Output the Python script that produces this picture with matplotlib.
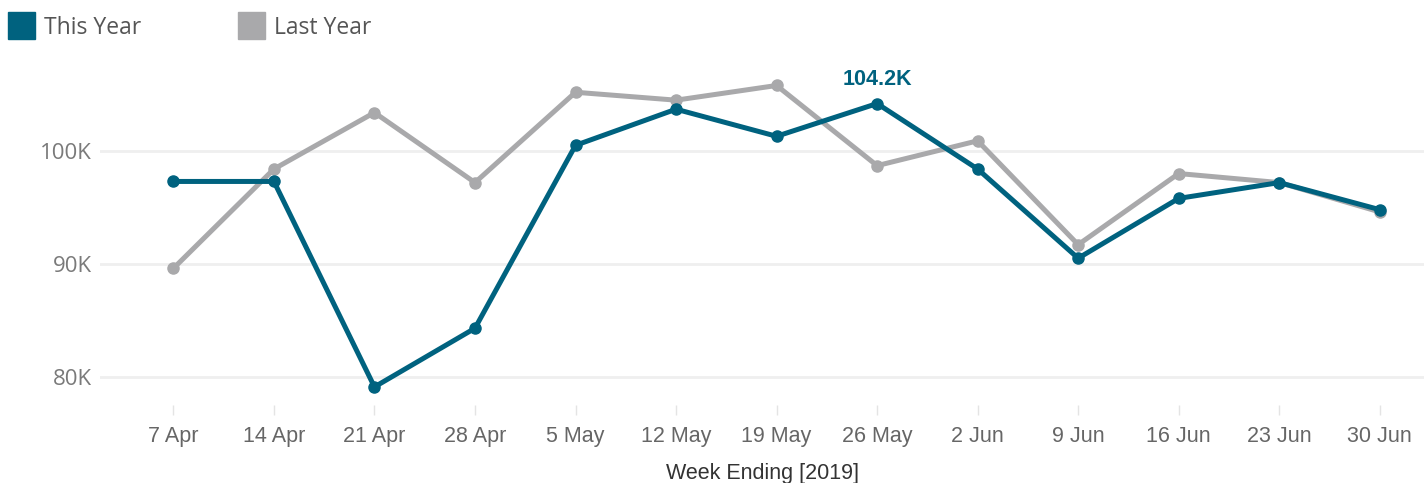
import matplotlib
matplotlib.use("Agg")
import matplotlib.pyplot as plt
from matplotlib.patches import Rectangle

weeks = ["7 Apr", "14 Apr", "21 Apr", "28 Apr", "5 May", "12 May", "19 May",
         "26 May", "2 Jun", "9 Jun", "16 Jun", "23 Jun", "30 Jun"]
this_year = [97.3, 97.3, 79.1, 84.3, 100.5, 103.7, 101.3,
             104.2, 98.4, 90.5, 95.8, 97.2, 94.8]
last_year = [89.6, 98.4, 103.4, 97.2, 105.2, 104.5, 105.8,
             98.7, 100.9, 91.7, 98.0, 97.2, 94.6]
y_ticks = [80, 90, 100]
y_labels = ["80K", "90K", "100K"]

TEAL = "#00627f"
GREY = "#a9a9ab"

fig = plt.figure(figsize=(14.24, 4.83), dpi=100)
ax = fig.add_axes([100/1424, 1 - 405/483, 1 - 100/1424, (405 - 55)/483])

x = list(range(len(weeks)))
ax.plot(x, last_year, color=GREY, lw=3.6, marker="o", ms=8, zorder=3)
ax.plot(x, this_year, color=TEAL, lw=3.6, marker="o", ms=8, zorder=4)

# peak label
imax = this_year.index(max(this_year))
ax.annotate(f"{this_year[imax]:.1f}K", (x[imax], this_year[imax]),
            xytext=(0, 10), textcoords="offset points", ha="center", va="bottom",
            color=TEAL, fontsize=15.5, fontweight="bold", family="Liberation Sans")

ax.set_xlim(-0.73, 12.44)
ax.set_ylim(77.5, 108.5)
ax.set_yticks(y_ticks)
ax.set_yticklabels(y_labels)
ax.set_xticks(x)
ax.set_xticklabels(weeks)
ax.grid(axis="y", color="#efefef", lw=2)
ax.set_axisbelow(True)
for s in ax.spines.values():
    s.set_visible(False)

ax.tick_params(axis="y", length=0, pad=6, labelsize=16, labelcolor="#7a7a7a")
ax.tick_params(axis="x", length=7, width=1, color="#e4e4e4", pad=8,
               labelsize=15.5, labelcolor="#666666")
for t in ax.get_yticklabels():
    t.set_family("Open Sans")
for t in ax.get_xticklabels():
    t.set_family(["Liberation Sans Narrow", "Liberation Sans"])

ax.set_xlabel("Week Ending [2019]", fontsize=15.5, color="#333333",
              family=["Liberation Sans Narrow", "Liberation Sans"], labelpad=12)

# legend
for px, label, col in [(8, "This Year", TEAL), (238, "Last Year", GREY)]:
    fig.patches.append(Rectangle((px/1424, 1 - 39/483), 27/1424, 27/483,
                                 transform=fig.transFigure, color=col, figure=fig))
    fig.text((px + 36)/1424, 1 - 28/483, label, fontsize=16.5, color="#555555",
             va="center", ha="left", family="Open Sans")

fig.savefig("out.png", dpi=100)
